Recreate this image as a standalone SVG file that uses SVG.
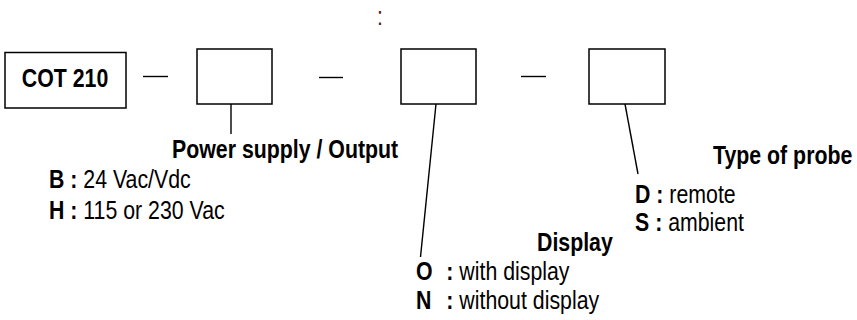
<svg xmlns="http://www.w3.org/2000/svg" width="857" height="320" viewBox="0 0 857 320">
<style>
.box{fill:#fff;stroke:#000;stroke-width:1.5}
.ln{stroke:#000;stroke-width:1.4;fill:none}
.t{font-family:"Liberation Sans",Arial,sans-serif;font-size:26px;fill:#000}
.b{font-weight:bold}
</style>
<rect width="857" height="320" fill="#fff"/>
<text transform="translate(377,25) scale(0.82,1)" class="t" style="fill:#5e1010">:</text>
<g id="node-cot210">
<rect class="box" x="5" y="52.5" width="121" height="55.5"/>
<text transform="translate(65,87) scale(0.82,1)" class="t b" text-anchor="middle" font-size="23">COT 210</text>
</g>
<g id="node-power">
<rect class="box" x="197" y="49" width="75" height="55"/>
</g>
<g id="node-display">
<rect class="box" x="401" y="49" width="75" height="55"/>
</g>
<g id="node-probe">
<rect class="box" x="589" y="49" width="76" height="55"/>
</g>
<g id="connectors">
<line class="ln" x1="143" y1="76.5" x2="168" y2="76.5"/>
<line class="ln" x1="319" y1="77.5" x2="343" y2="77.5"/>
<line class="ln" x1="521" y1="76.5" x2="546" y2="76.5"/>
<line class="ln" x1="231" y1="104" x2="231" y2="134"/>
<line class="ln" x1="436" y1="104" x2="420.5" y2="257"/>
<line class="ln" x1="625" y1="104" x2="638" y2="174"/>
</g>
<g id="label-power">
<text transform="translate(172,158) scale(0.82,1)" class="t b">Power supply / Output</text>
<text transform="translate(49,188) scale(0.82,1)" class="t"><tspan class="b">B :</tspan> 24 Vac/Vdc</text>
<text transform="translate(49,218.5) scale(0.82,1)" class="t"><tspan class="b">H :</tspan> 115 or 230 Vac</text>
</g>
<g id="label-display">
<text transform="translate(537,251) scale(0.82,1)" class="t b">Display</text>
<text transform="translate(416,280) scale(0.82,1)" class="t"><tspan x="0" class="b">O</tspan><tspan x="37" class="b">:</tspan> with display</text>
<text transform="translate(416,309) scale(0.82,1)" class="t"><tspan x="0" class="b">N</tspan><tspan x="37" class="b">:</tspan> without display</text>
</g>
<g id="label-probe">
<text transform="translate(713,164) scale(0.82,1)" class="t b">Type of probe</text>
<text transform="translate(635,203) scale(0.82,1)" class="t"><tspan class="b">D :</tspan> remote</text>
<text transform="translate(635,231) scale(0.82,1)" class="t"><tspan class="b">S :</tspan> ambient</text>
</g>
</svg>
